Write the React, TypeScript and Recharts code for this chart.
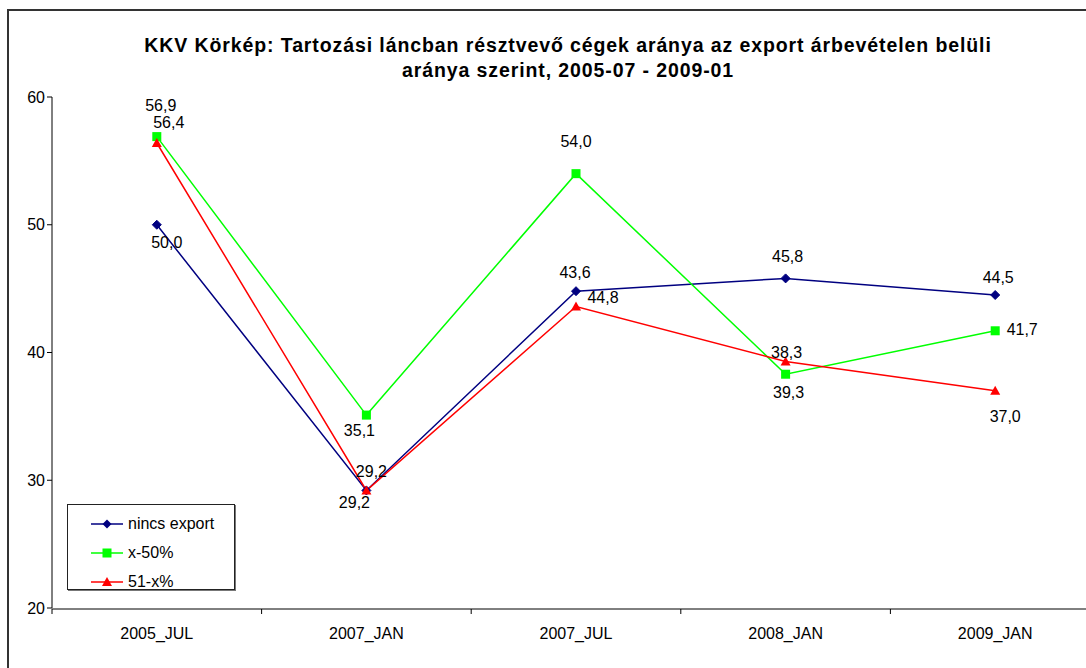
import React from 'react';
import { LineChart, Line, XAxis, YAxis, LabelList, Legend } from 'recharts';

const categories = ['2005_JUL', '2007_JAN', '2007_JUL', '2008_JAN', '2009_JAN'];
const nincsExport = [50.0, 29.2, 44.8, 45.8, 44.5];
const x50 = [56.9, 35.1, 54.0, 38.3, 41.7];
const x51 = [56.4, 29.2, 43.6, 39.3, 37.0];
const nincsLabels = ['50,0', '29,2', '43,6', '45,8', '44,5'];
const x50Labels = ['56,9', '35,1', '54,0', '39,3', '41,7'];
const x51Labels = ['56,4', '29,2', '44,8', '38,3', '37,0'];
const yTicks = [20, 30, 40, 50, 60];

const data = categories.map((c, i) => ({
  pos: i + 0.5,
  cat: c,
  nincs: nincsExport[i],
  a: x50[i],
  b: x51[i],
  nincsLbl: nincsLabels[i],
  aLbl: x50Labels[i],
  bLbl: x51Labels[i],
}));

// label offsets (style), relative to the data point
const nincsOff = [[10, 18], [5, -19], [-1, -19], [2, -22], [3, -18]];
const aOff = [[4, -31], [-7, 15], [0, -32], [3, 18], [27, -1]];
const bOff = [[12, -20], [-12, 12], [27, -9], [1, -9], [10, 26]];

const NAVY = '#000080';
const GREEN = '#00FF00';
const RED = '#FF0000';
const FONT = '"Liberation Sans", Arial, sans-serif';

const Diamond = (p: any) => {
  const { cx, cy } = p;
  if (cx == null || cy == null) return <g key={p.key} />;
  const s = 4.5;
  return <polygon key={p.key} points={`${cx},${cy - s} ${cx + s},${cy} ${cx},${cy + s} ${cx - s},${cy}`} fill={NAVY} stroke={NAVY} />;
};
const Square = (p: any) => {
  const { cx, cy } = p;
  if (cx == null || cy == null) return <g key={p.key} />;
  const s = 4.5;
  return <rect key={p.key} x={cx - s} y={cy - s} width={2 * s} height={2 * s} fill={GREEN} />;
};
const Triangle = (p: any) => {
  const { cx, cy } = p;
  if (cx == null || cy == null) return <g key={p.key} />;
  const s = 5;
  return <polygon key={p.key} points={`${cx},${cy - s} ${cx + s},${cy + s - 1} ${cx - s},${cy + s - 1}`} fill={RED} />;
};

const makeLabel = (offs: number[][]) => (p: any) => {
  const o = offs[p.index] || [0, 0];
  return (
    <text
      key={p.index}
      x={p.x + o[0]}
      y={p.y + o[1]}
      textAnchor="middle"
      dominantBaseline="central"
      fontSize={16}
      fontFamily={FONT}
      fill="#000"
    >
      {p.value}
    </text>
  );
};

const legendItems = [
  { name: 'nincs export', color: NAVY, shape: 'diamond' },
  { name: 'x-50%', color: GREEN, shape: 'square' },
  { name: '51-x%', color: RED, shape: 'triangle' },
];

const renderLegend = () => (
  <div
    style={{
      width: 168,
      height: 86,
      border: '1px solid #222',
      boxShadow: '1px 1px 0 #777',
      background: '#fff',
      boxSizing: 'border-box',
      fontFamily: FONT,
      fontSize: 16,
      paddingTop: 4,
    }}
  >
    {legendItems.map((it) => (
      <div key={it.name} style={{ display: 'flex', alignItems: 'center', height: 29 }}>
        <svg width={58} height={14} style={{ display: 'block' }}>
          <line x1={23} x2={55} y1={7} y2={7} stroke={it.color} strokeWidth={1.5} />
          {it.shape === 'diamond' && <polygon points="39,2.5 43.5,7 39,11.5 34.5,7" fill={it.color} />}
          {it.shape === 'square' && <rect x={34.5} y={2.5} width={9} height={9} fill={it.color} />}
          {it.shape === 'triangle' && <polygon points="39,2 44,11 34,11" fill={it.color} />}
        </svg>
        <span style={{ marginLeft: 2, color: '#000' }}>{it.name}</span>
      </div>
    ))}
  </div>
);

export default function App() {
  return (
    <div style={{ position: 'fixed', left: 0, top: 0, width: 1086, height: 668, overflow: 'hidden', background: '#fff' }}>
      <div
        style={{
          position: 'absolute',
          left: 7,
          top: 9,
          width: 1200,
          height: 800,
          border: '2px solid #333',
          boxSizing: 'border-box',
        }}
      />
      <div
        style={{
          position: 'absolute',
          left: 0,
          top: 33,
          width: 1136,
          textAlign: 'center',
          fontFamily: FONT,
          fontWeight: 'bold',
          fontSize: 19.5,
          letterSpacing: 0.9,
          lineHeight: '25px',
          color: '#000',
        }}
      >
        KKV Körkép: Tartozási láncban résztvevő cégek aránya az export árbevételen belüli
        <br />
        aránya szerint, 2005-07 - 2009-01
      </div>
      <div style={{ position: 'absolute', left: 0, top: 0 }}>
        <LineChart width={1140} height={668} data={data} margin={{ top: 97, right: 40, bottom: 58, left: 0 }}>
          <XAxis
            xAxisId="ticks"
            type="number"
            dataKey="pos"
            domain={[0, 5]}
            ticks={[0, 1, 2, 3, 4, 5]}
            tickFormatter={() => ''}
            height={1}
            tickSize={5}
            axisLine={{ stroke: '#000', strokeWidth: 1 }}
            tickLine={{ stroke: '#000' }}
            interval={0}
          />
          <XAxis
            xAxisId="cats"
            type="number"
            dataKey="pos"
            domain={[0, 5]}
            ticks={[0.5, 1.5, 2.5, 3.5, 4.5]}
            tickFormatter={(v: number) => categories[Math.floor(v)]}
            height={1}
            tickSize={8}
            tickMargin={12}
            axisLine={false}
            tickLine={false}
            tick={{ fill: '#000', fontSize: 16, fontFamily: FONT }}
            interval={0}
          />
          <YAxis
            type="number"
            domain={[20, 60]}
            ticks={yTicks}
            width={52}
            tickSize={5}
            tickMargin={2}
            axisLine={{ stroke: '#000' }}
            tickLine={{ stroke: '#000' }}
            tick={{ fill: '#000', fontSize: 16, fontFamily: FONT }}
            interval={0}
          />
          <Legend
            layout="horizontal"
            verticalAlign="middle"
            align="center"
            content={renderLegend}
            wrapperStyle={{ position: 'absolute', left: 67, top: 504, width: 168, height: 86 }}
          />
          <Line
            xAxisId="cats"
            type="linear"
            dataKey="nincs"
            name="nincs export"
            stroke={NAVY}
            strokeWidth={1.5}
            dot={Diamond}
            activeDot={false}
            isAnimationActive={false}
          >
            <LabelList dataKey="nincsLbl" content={makeLabel(nincsOff)} />
          </Line>
          <Line
            xAxisId="cats"
            type="linear"
            dataKey="a"
            name="x-50%"
            stroke={GREEN}
            strokeWidth={1.5}
            dot={Square}
            activeDot={false}
            isAnimationActive={false}
          >
            <LabelList dataKey="aLbl" content={makeLabel(aOff)} />
          </Line>
          <Line
            xAxisId="cats"
            type="linear"
            dataKey="b"
            name="51-x%"
            stroke={RED}
            strokeWidth={1.5}
            dot={Triangle}
            activeDot={false}
            isAnimationActive={false}
          >
            <LabelList dataKey="bLbl" content={makeLabel(bOff)} />
          </Line>
        </LineChart>
      </div>
    </div>
  );
}
